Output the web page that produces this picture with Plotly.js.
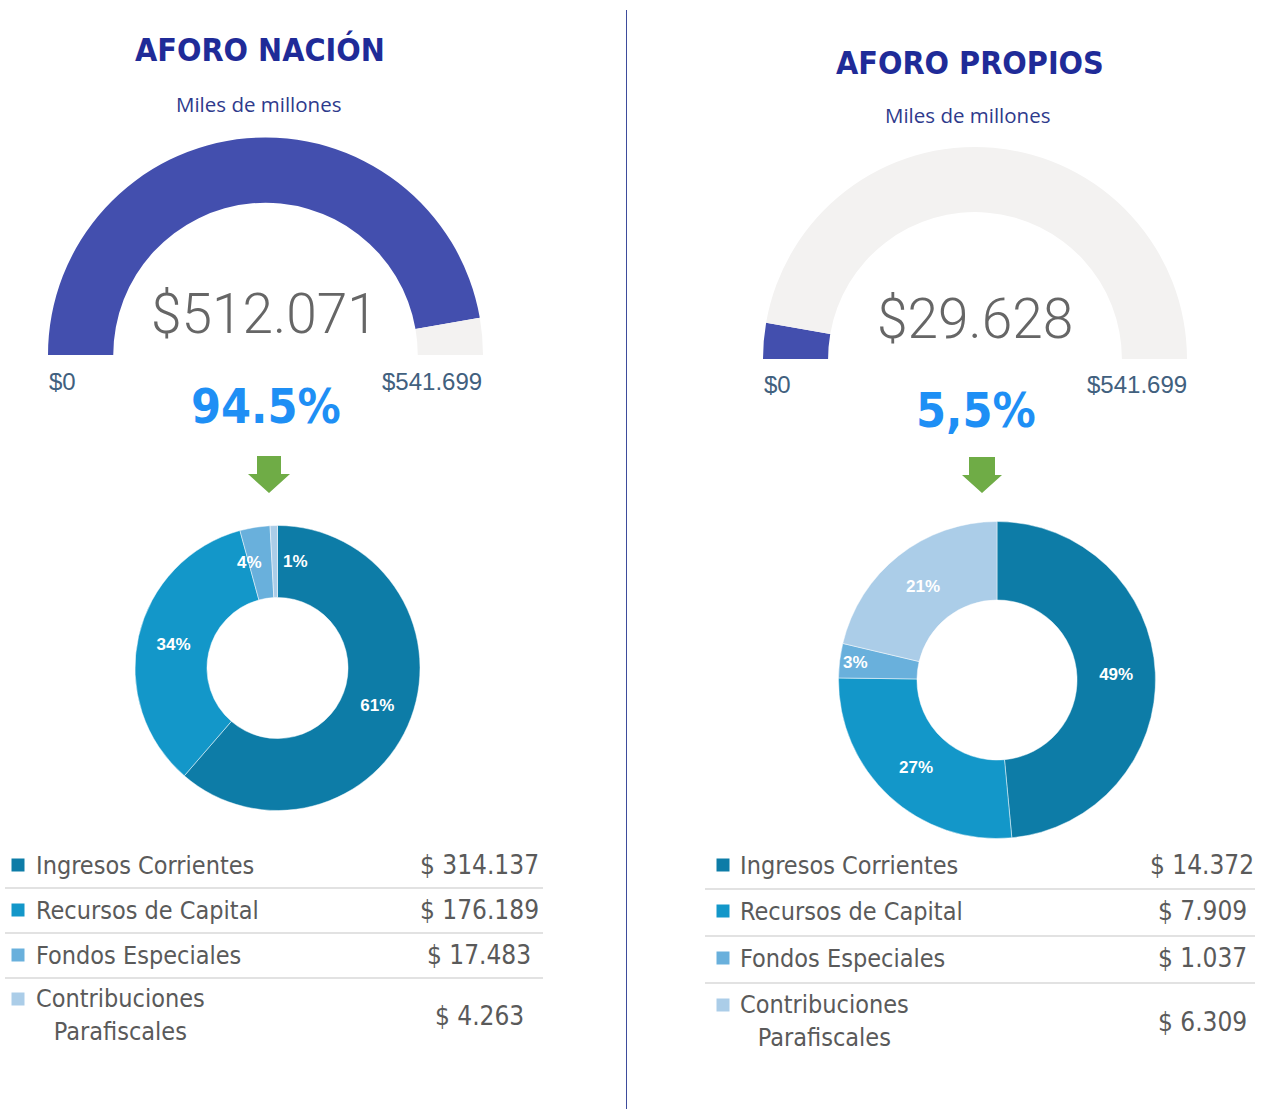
<!DOCTYPE html>
<html>
<head>
<meta charset="utf-8">
<script src="https://cdn.plot.ly/plotly-3.0.1.min.js"></script>
<style>
html,body{margin:0;padding:0;background:#fff;}
#chart{width:1263px;height:1109px;}
</style>
</head>
<body>
<div id="chart"></div>
<script>
// ---------- DATA ----------
const panelTitles = ['AFORO NACIÓN', 'AFORO PROPIOS'];
const subtitle = 'Miles de millones';
const gaugeValues = [512071, 29628];
const gaugeMax = [541699, 541699];
const gaugeValueLabels = ['$512.071', '$29.628'];
const gaugeMinLabels = ['$0', '$0'];
const gaugeMaxLabels = ['$541.699', '$541.699'];
const gaugePctLabels = ['94.5%', '5,5%'];

const categories = ['Ingresos Corrientes', 'Recursos de Capital', 'Fondos Especiales', 'Contribuciones Parafiscales'];
const categoryLines = ['Ingresos Corrientes', 'Recursos de Capital', 'Fondos Especiales', 'Contribuciones<br>Parafiscales'];
const nacionValues = [314137, 176189, 17483, 4263];
const propiosValues = [14372, 7909, 1037, 6309];
const nacionPctLabels = ['61%', '34%', '4%', '1%'];
const propiosPctLabels = ['49%', '27%', '3%', '21%'];
const nacionValueLabels = ['$ 314.137', '$ 176.189', '$ 17.483', '$ 4.263'];
const propiosValueLabels = ['$ 14.372', '$ 7.909', '$ 1.037', '$ 6.309'];
const categoryColors = ['#0D7CA7', '#1397C9', '#69B0DC', '#ABCDE8'];

// ---------- LAYOUT HELPERS ----------
const W = 1263, H = 1109;
const fx = x => x / W;
const fy = y => 1 - y / H;
function dom(cx, cy, r) {
  return {x: [fx(cx - r), fx(cx + r)], y: [fy(cy + r), fy(cy - r)]};
}

const COND = '"DejaVu Sans Condensed", "Liberation Sans", sans-serif';
const gaugeBlue = '#434FAE';
const gaugeGray = '#F3F2F1';
const pctFont = {color: '#ffffff', size: 17, family: '"Liberation Sans", Arial, sans-serif', weight: 'bold'};

const panels = [
  {gauge: {cx: 265.5, cy: 355, r: 217.5, hole: 0.70},
   donut: {cx: 277.5, cy: 668, r: 142.5, hole: 0.495},
   titleY: 50, subY: 104, cx: 260, subX: 258, numX: 264, numY: 314,
   minX: 62, maxX: 432, endY: 381, pctX: 266, pctY: 406,
   arrow: {cx: 269, top: 456, neck: 474, tip: 493, sh: 12, hh: 21},
   values: nacionValues, vlabels: nacionValueLabels, pct: nacionPctLabels,
   tinyLabels: true,
   table: {sqX: 18, labX: 34, valX: 479, rows: [865, 910, 955, 1016], seps: [888, 933, 978], x0: 5, x1: 543}},
  {gauge: {cx: 975, cy: 359, r: 212, hole: 0.693},
   donut: {cx: 997, cy: 680, r: 158.5, hole: 0.505},
   titleY: 63, subY: 115, cx: 970, subX: 967, numX: 975, numY: 319,
   minX: 777, maxX: 1137, endY: 385, pctX: 976, pctY: 410,
   arrow: {cx: 982, top: 457, neck: 475, tip: 493, sh: 13, hh: 20},
   values: propiosValues, vlabels: propiosValueLabels, pct: propiosPctLabels,
   tinyLabels: false,
   table: {sqX: 723, labX: 738, valX: 1202, rows: [865, 911, 958, 1022], seps: [889, 936, 983], x0: 705, x1: 1255}}
];

const traces = [];
const annotations = [];
const shapes = [];

panels.forEach((p, i) => {
  // gauge (half donut)
  const g = p.gauge;
  traces.push({
    type: 'pie',
    values: [gaugeValues[i], gaugeMax[i] - gaugeValues[i], gaugeMax[i]],
    labels: ['valor', 'resto', 'oculto'],
    marker: {colors: [gaugeBlue, gaugeGray, 'rgba(0,0,0,0)'], line: {width: 0}},
    hole: g.hole, sort: false, direction: 'clockwise', rotation: -90,
    textinfo: 'none', hoverinfo: 'skip', showlegend: false,
    domain: dom(g.cx, g.cy, g.r)
  });
  // donut
  const d = p.donut;
  const total = p.values.reduce((s, v) => s + v, 0);
  const positions = p.values.map(v => (p.tinyLabels && v / total < 0.05) ? 'none' : 'inside');
  traces.push({
    type: 'pie',
    values: p.values,
    labels: categories,
    text: p.pct,
    marker: {colors: categoryColors, line: {color: 'rgba(255,255,255,0.6)', width: 0.8}},
    hole: d.hole, sort: false, direction: 'clockwise', rotation: 0,
    texttemplate: '%{text}', textposition: positions,
    insidetextorientation: 'horizontal',
    insidetextfont: pctFont,
    hoverinfo: 'label+value+percent', showlegend: false,
    domain: dom(d.cx, d.cy, d.r)
  });
  // labels for very thin slices, placed at the slice's mid angle (computed from data)
  if (p.tinyLabels) {
    let cum = 0;
    const midR = d.r * (1 + d.hole) / 2;
    const smallIdx = [];
    p.values.forEach((v, k) => {
      const mid = (cum + v / 2) / total * 2 * Math.PI;
      cum += v;
      if (v / total < 0.05) smallIdx.push({k: k, mid: mid});
    });
    smallIdx.forEach((s, j) => {
      const x = d.cx + midR * Math.sin(s.mid);
      const y = d.cy - midR * Math.cos(s.mid);
      const last = j === smallIdx.length - 1;
      annotations.push({xref: 'paper', yref: 'paper', x: fx(x), y: fy(y),
        xanchor: last ? 'left' : 'right', yanchor: 'middle', xshift: last ? 6 : 3,
        text: p.pct[s.k], showarrow: false, font: pctFont});
    });
  }

  // titles
  annotations.push({xref: 'paper', yref: 'paper', x: fx(p.cx), y: fy(p.titleY), xanchor: 'center', yanchor: 'middle',
    text: panelTitles[i], showarrow: false,
    font: {family: COND, size: 32, color: '#1F2B98', weight: 'bold'}});
  annotations.push({xref: 'paper', yref: 'paper', x: fx(p.subX), y: fy(p.subY), xanchor: 'center', yanchor: 'middle',
    text: subtitle, showarrow: false,
    font: {family: '"Open Sans", sans-serif', size: 20.5, color: '#2E3A8C'}});
  // gauge value
  annotations.push({xref: 'paper', yref: 'paper', x: fx(p.numX), y: fy(p.numY), xanchor: 'center', yanchor: 'middle',
    text: gaugeValueLabels[i], showarrow: false,
    font: {family: 'Roboto, "DejaVu Sans Condensed", sans-serif', size: 55, color: '#666666', weight: 300}});
  annotations.push({xref: 'paper', yref: 'paper', x: fx(p.minX), y: fy(p.endY), xanchor: 'center', yanchor: 'middle',
    text: gaugeMinLabels[i], showarrow: false,
    font: {family: '"Liberation Sans", sans-serif', size: 24, color: '#41607E'}});
  annotations.push({xref: 'paper', yref: 'paper', x: fx(p.maxX), y: fy(p.endY), xanchor: 'center', yanchor: 'middle',
    text: gaugeMaxLabels[i], showarrow: false,
    font: {family: '"Liberation Sans", sans-serif', size: 24, color: '#41607E'}});
  annotations.push({xref: 'paper', yref: 'paper', x: fx(p.pctX), y: fy(p.pctY), xanchor: 'center', yanchor: 'middle',
    text: gaugePctLabels[i], showarrow: false,
    font: {family: COND, size: 48, color: '#1E8FF5', weight: 'bold'}});

  // green arrow
  const a = p.arrow;
  const pts = [[a.cx - a.sh, a.top], [a.cx + a.sh, a.top], [a.cx + a.sh, a.neck], [a.cx + a.hh, a.neck],
               [a.cx, a.tip], [a.cx - a.hh, a.neck], [a.cx - a.sh, a.neck]];
  shapes.push({type: 'path', xref: 'paper', yref: 'paper',
    path: 'M' + pts.map(q => fx(q[0]) + ',' + fy(q[1])).join(' L') + ' Z',
    fillcolor: '#6FAC46', line: {width: 0}});

  // table
  const t = p.table;
  t.seps.forEach(y => shapes.push({type: 'line', xref: 'paper', yref: 'paper',
    x0: fx(t.x0), x1: fx(t.x1), y0: fy(y), y1: fy(y), line: {color: '#D9D9D9', width: 1.5}}));
  categories.forEach((c, k) => {
    const ry = t.rows[k];
    const labY = k === 3 ? ry - 1 : ry;
    const sqY = k === 3 ? ry - 17 : ry;
    shapes.push({type: 'rect', xref: 'paper', yref: 'paper',
      x0: fx(t.sqX - 6.5), x1: fx(t.sqX + 6.5), y0: fy(sqY + 6.5), y1: fy(sqY - 6.5),
      fillcolor: categoryColors[k], line: {width: 0}});
    annotations.push({xref: 'paper', yref: 'paper', x: fx(t.labX), y: fy(labY), xanchor: 'left', yanchor: 'middle',
      text: categoryLines[k], align: 'center', showarrow: false,
      font: {family: COND, size: 25, color: '#5A5A5A'}});
    annotations.push({xref: 'paper', yref: 'paper', x: fx(t.valX), y: fy(ry), xanchor: 'center', yanchor: 'middle',
      text: p.vlabels[k], showarrow: false,
      font: {family: COND, size: 26, color: '#5A5A5A'}});
  });
});

// divider
shapes.push({type: 'line', xref: 'paper', yref: 'paper', x0: fx(626.5), x1: fx(626.5), y0: fy(10), y1: fy(1109),
  line: {color: '#3E4C9C', width: 1}});

const layout = {
  width: W, height: H,
  margin: {l: 0, r: 0, t: 0, b: 0},
  paper_bgcolor: '#ffffff', plot_bgcolor: '#ffffff',
  showlegend: false,
  uniformtext: {mode: 'show', minsize: 17},
  annotations: annotations,
  shapes: shapes
};

Plotly.newPlot('chart', traces, layout, {displayModeBar: false, staticPlot: true});
</script>
</body>
</html>
